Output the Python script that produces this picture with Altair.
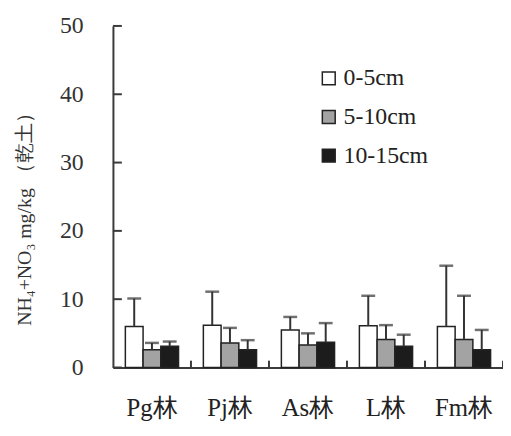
import altair as alt
import pandas as pd

forests = ["Pg林", "Pj林", "As林", "L林", "Fm林"]
depths = ["0-5cm", "5-10cm", "10-15cm"]
means = {
    "0-5cm": [6.0, 6.2, 5.5, 6.1, 6.0],
    "5-10cm": [2.6, 3.6, 3.3, 4.1, 4.1],
    "10-15cm": [3.1, 2.6, 3.7, 3.1, 2.6],
}
errs = {
    "0-5cm": [4.1, 4.9, 1.9, 4.4, 8.9],
    "5-10cm": [1.0, 2.2, 1.7, 2.1, 6.4],
    "10-15cm": [0.7, 1.4, 2.8, 1.7, 2.9],
}
y_ticks = [0, 10, 20, 30, 40, 50]
colors = ["#ffffff", "#a3a3a3", "#1c1c1c"]

rows = []
for d in depths:
    for f, m, e in zip(forests, means[d], errs[d]):
        rows.append({"forest": f, "depth": d, "mean": m, "upper": round(m + e, 2)})
df = pd.DataFrame(rows)
df_f = pd.DataFrame({"forest": forests})
df_t = pd.DataFrame({"v": y_ticks})

serif = "Liberation Serif, serif"
W, H = 394, 345
AX = "#3a3a3a"

xscale = alt.Scale(domain=forests, paddingInner=0, paddingOuter=0)
xaxis = alt.Axis(title=None, labelAngle=0, ticks=False, labelPadding=28,
                 labelFontSize=25, labelFont=serif, labelColor="#222",
                 labelFontWeight="normal",
                 domainColor=AX, domainWidth=2)
yscale = alt.Scale(domain=[0, 50], nice=False)
yaxis = alt.Axis(values=y_ticks, ticks=False, grid=False, labelPadding=30,
                 labelFontSize=24, labelFont=serif, labelColor="#333",
                 domainColor=AX, domainWidth=2,
                 title="NH₄+NO₃ mg/kg （乾土）", titleFont=serif, titleFontSize=20,
                 titleFontWeight="normal", titleColor="#333",
                 titleX=-89, titleY=190, titleAngle=270,
                 titleAlign="center", titleBaseline="middle")

x = alt.X("forest:N", sort=forests, scale=xscale, axis=xaxis)
xo = alt.XOffset("depth:N", sort=depths,
                 scale=alt.Scale(domain=depths, paddingInner=0, paddingOuter=0.7))

bars = alt.Chart(df).mark_bar(stroke="#222", strokeWidth=1.5).encode(
    x=x, xOffset=xo,
    y=alt.Y("mean:Q", scale=yscale, axis=yaxis),
    fill=alt.Fill("depth:N", sort=depths,
                  scale=alt.Scale(domain=depths, range=colors),
                  legend=alt.Legend(orient="none", legendX=206, legendY=41, title=None,
                                    labelFont=serif, labelFontSize=24, labelColor="#222",
                                    labelFontWeight="normal",
                                    symbolType="square", symbolSize=169,
                                    symbolStrokeColor="#222", symbolStrokeWidth=1.5,
                                    symbolOpacity=1, rowPadding=15, labelOffset=3)),
)

stems = alt.Chart(df).mark_rule(color="#333", strokeWidth=2).encode(
    x=x, xOffset=xo,
    y=alt.Y("mean:Q", scale=yscale, axis=yaxis),
    y2="upper:Q",
)

caps = alt.Chart(df).mark_tick(color="#333", thickness=2.5, size=14).encode(
    x=x, xOffset=xo,
    y=alt.Y("upper:Q", scale=yscale, axis=yaxis),
)

yt = alt.Chart(df_t).mark_rule(color=AX, strokeWidth=2).encode(
    x=alt.value(0), x2=alt.value(9),
    y=alt.Y("v:Q", scale=yscale, axis=yaxis),
)

bt = alt.Chart(df_f).mark_rule(color=AX, strokeWidth=2).encode(
    x=alt.X("forest:N", sort=forests, scale=xscale, axis=xaxis, bandPosition=1),
    y=alt.datum(0), y2=alt.datum(1.0),
)

chart = alt.layer(bars, stems, caps, yt, bt).properties(
    width=W, height=H,
    autosize="none",
    padding={"left": 106, "top": 16, "right": 0, "bottom": 60},
    background="white",
).configure_view(stroke=None)

chart.save("out.html", embed_options={"renderer": "svg", "actions": False})
